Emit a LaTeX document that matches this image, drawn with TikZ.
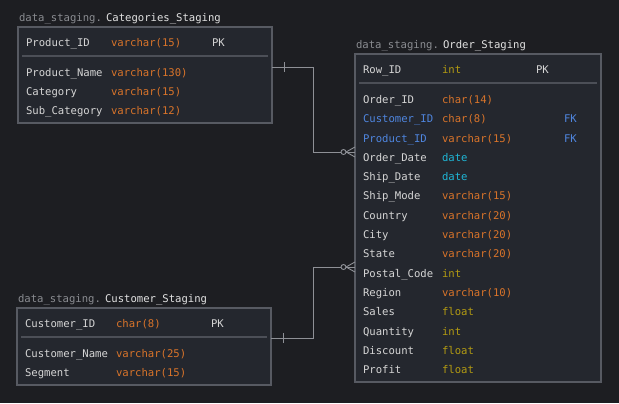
\documentclass[tikz,border=0pt]{standalone}
\usepackage{fontspec}
\setmonofont{DejaVu Sans Mono}
\begin{document}
\begin{tikzpicture}[x=1bp,y=-1bp,
  every node/.style={inner sep=0pt,outer sep=0pt,font=\ttfamily\fontsize{10.6bp}{12bp}\selectfont},
  tbl/.style={draw=boxline,line width=1.6bp,fill=boxfill,anchor=north west},
  fld/.style={anchor=base west,text=fieldc},
  fkf/.style={anchor=base west,text=fkc},
  vch/.style={anchor=base west,text=orangec},
  num/.style={anchor=base west,text=olivec},
  dat/.style={anchor=base west,text=cyanc},
  key/.style={anchor=base west,text=fieldc},
  fkk/.style={anchor=base west,text=fkc},
  sch/.style={anchor=base west,text=schemac},
  tname/.style={anchor=base west,text=titlec},
  sep/.style={draw=sepc,line width=1.2bp},
  conn/.style={draw=connc,line width=0.9bp},
]
\definecolor{bg}{HTML}{1D1E22}
\definecolor{boxfill}{HTML}{24272E}
\definecolor{boxline}{HTML}{575A62}
\definecolor{sepc}{HTML}{4C4F57}
\definecolor{connc}{HTML}{8E9096}
\definecolor{fieldc}{HTML}{D6D6D6}
\definecolor{fkc}{HTML}{4F86E0}
\definecolor{orangec}{HTML}{D9742A}
\definecolor{olivec}{HTML}{B39B12}
\definecolor{cyanc}{HTML}{1FB6D6}
\definecolor{schemac}{HTML}{8A8C91}
\definecolor{titlec}{HTML}{E2E2E2}

\fill[bg] (0,0) rectangle (619,403);
\useasboundingbox (0,0) rectangle (619,403);

% ---------- Categories_Staging ----------
\node[sch] (catsch) at (19,21.5) {data\_staging.};
\node[tname] (catname) at (106,21.5) {Categories\_Staging};
\node[tbl,minimum width=254bp,minimum height=96bp] (cat) at (18,27) {};
\draw[sep] (22,56) -- (268,56);
\node[key] (c1) at (26,46) {Product\_ID};
\node[vch] (c1t) at (111,46) {varchar(15)};
\node[key] (c1k) at (212,46) {PK};
\node[fld] (c2) at (26,76) {Product\_Name};
\node[vch] (c2t) at (111,76) {varchar(130)};
\node[fld] (c3) at (26,95) {Category};
\node[vch] (c3t) at (111,95) {varchar(15)};
\node[fld] (c4) at (26,114) {Sub\_Category};
\node[vch] (c4t) at (111,114) {varchar(12)};

% ---------- Customer_Staging ----------
\node[sch] (cusch) at (18,302.5) {data\_staging.};
\node[tname] (cuname) at (105,302.5) {Customer\_Staging};
\node[tbl,minimum width=254bp,minimum height=77bp] (cust) at (17,308) {};
\draw[sep] (21,337) -- (267,337);
\node[key] (u1) at (25,327) {Customer\_ID};
\node[vch] (u1t) at (116,327) {char(8)};
\node[key] (u1k) at (211,327) {PK};
\node[fld] (u2) at (25,357) {Customer\_Name};
\node[vch] (u2t) at (116,357) {varchar(25)};
\node[fld] (u3) at (25,376) {Segment};
\node[vch] (u3t) at (116,376) {varchar(15)};

% ---------- Order_Staging ----------
\node[sch] (orsch) at (356,48.5) {data\_staging.};
\node[tname] (orname) at (443,48.5) {Order\_Staging};
\node[tbl,minimum width=246bp,minimum height=328bp] (ord) at (355,54) {};
\draw[sep] (359,83) -- (597,83);
\node[key] (o0) at (363,73) {Row\_ID};
\node[num] (o0t) at (442,73) {int};
\node[key] (o0k) at (536,73) {PK};
\node[fld] (o1) at (363,103) {Order\_ID};
\node[vch] (o1t) at (442,103) {char(14)};
\node[fkf] (o2) at (363,122) {Customer\_ID};
\node[vch] (o2t) at (442,122) {char(8)};
\node[fkk] (o2k) at (564,122) {FK};
\node[fkf] (o3) at (363,142) {Product\_ID};
\node[vch] (o3t) at (442,142) {varchar(15)};
\node[fkk] (o3k) at (564,142) {FK};
\node[fld] (o4) at (363,161) {Order\_Date};
\node[dat] (o4t) at (442,161) {date};
\node[fld] (o5) at (363,180) {Ship\_Date};
\node[dat] (o5t) at (442,180) {date};
\node[fld] (o6) at (363,199) {Ship\_Mode};
\node[vch] (o6t) at (442,199) {varchar(15)};
\node[fld] (o7) at (363,219) {Country};
\node[vch] (o7t) at (442,219) {varchar(20)};
\node[fld] (o8) at (363,238) {City};
\node[vch] (o8t) at (442,238) {varchar(20)};
\node[fld] (o9) at (363,257) {State};
\node[vch] (o9t) at (442,257) {varchar(20)};
\node[fld] (o10) at (363,277) {Postal\_Code};
\node[num] (o10t) at (442,277) {int};
\node[fld] (o11) at (363,296) {Region};
\node[vch] (o11t) at (442,296) {varchar(10)};
\node[fld] (o12) at (363,315) {Sales};
\node[num] (o12t) at (442,315) {float};
\node[fld] (o13) at (363,335) {Quantity};
\node[num] (o13t) at (442,335) {int};
\node[fld] (o14) at (363,354) {Discount};
\node[num] (o14t) at (442,354) {float};
\node[fld] (o15) at (363,373) {Profit};
\node[num] (o15t) at (442,373) {float};

% ---------- connectors ----------
\coordinate (a1) at (cat.east |- 0,67);
\coordinate (a2) at (ord.west |- 0,152);
\coordinate (b1) at (cust.east |- 0,338);
\coordinate (b2) at (ord.west |- 0,267);

\draw[conn] (a1) -- (313,67) -- (313,152) -- ([xshift=-14bp]a2);
\draw[conn] ([xshift=12bp]a1) ++(0,-5) -- ++(0,10);
\draw[conn] ([xshift=-9bp]a2) -- (a2);
\draw[conn] ([xshift=-9bp]a2) -- ([yshift=-5bp]a2);
\draw[conn] ([xshift=-9bp]a2) -- ([yshift=5bp]a2);
\draw[conn,fill=bg] ([xshift=-11.5bp]a2) circle (2.5bp);

\draw[conn] (b1) -- (313,338) -- (313,267) -- ([xshift=-14bp]b2);
\draw[conn] ([xshift=12bp]b1) ++(0,-5) -- ++(0,10);
\draw[conn] ([xshift=-9bp]b2) -- (b2);
\draw[conn] ([xshift=-9bp]b2) -- ([yshift=-5bp]b2);
\draw[conn] ([xshift=-9bp]b2) -- ([yshift=5bp]b2);
\draw[conn,fill=bg] ([xshift=-11.5bp]b2) circle (2.5bp);
\end{tikzpicture}
\end{document}
